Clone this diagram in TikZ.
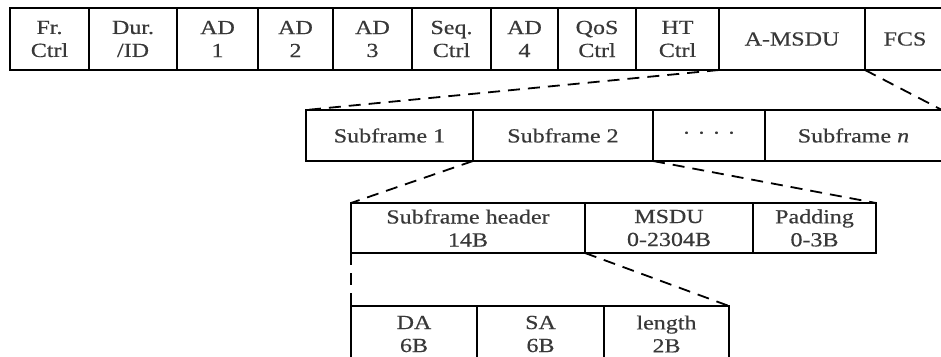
\documentclass[tikz,border=0pt]{standalone}
\usepackage{fontspec}
\setmainfont{Liberation Serif}[FakeStretch=1.2, FakeBold=0.4]
\usetikzlibrary{positioning}

\begin{document}
\begin{tikzpicture}[
  x=1pt, y=-1pt,
  node distance=0pt,
  field/.style={draw, line width=2.6pt, align=center, inner sep=0pt,
    outer sep=0pt, anchor=north west, text=black!78,
    font=\fontsize{20}{23}\selectfont},
  mac/.style={field, minimum height=62pt},
  sub/.style={field, minimum height=51pt},
  hdr/.style={field, minimum height=50pt},
  zoomline/.style={line width=1.8pt, dash pattern=on 12pt off 8pt}
]
\fill[white] (0,0) rectangle (941,356);
\useasboundingbox (0,0) rectangle (941,356);

% MAC frame
\node[mac, minimum width=79pt] (fc) at (10,8) {Fr.\\Ctrl};
\node[mac, minimum width=88pt, right=of fc] (dur) {Dur.\\/ID};
\node[mac, minimum width=81pt, right=of dur] (ad1) {AD\\1};
\node[mac, minimum width=75pt, right=of ad1] (ad2) {AD\\2};
\node[mac, minimum width=79pt, right=of ad2] (ad3) {AD\\3};
\node[mac, minimum width=79pt, right=of ad3] (seq) {Seq.\\Ctrl};
\node[mac, minimum width=67pt, right=of seq] (ad4) {AD\\4};
\node[mac, minimum width=78pt, right=of ad4] (qos) {QoS\\Ctrl};
\node[mac, minimum width=83pt, right=of qos] (ht) {HT\\Ctrl};
\node[mac, minimum width=146pt, right=of ht] (amsdu) {A-MSDU};
\node[mac, minimum width=80pt, right=of amsdu] (fcs) {FCS};

% A-MSDU subframes
\node[sub, minimum width=167pt] (sf1) at (306,110) {Subframe 1};
\node[sub, minimum width=180pt, right=of sf1] (sf2) {Subframe 2};
\node[sub, minimum width=112pt, right=of sf2] (dots) {·\hspace{7pt}·\hspace{7pt}·\hspace{7pt}·};
\node[sub, minimum width=177pt, right=of dots] (sfn) {Subframe \textit{n}};

% subframe
\node[hdr, minimum width=234pt] (head) at (351,203) {Subframe header\\14B};
\node[hdr, minimum width=168pt, right=of head] (msdu) {MSDU\\0-2304B};
\node[hdr, minimum width=123pt, right=of msdu] (pad) {Padding\\0-3B};

% subframe header
\node[field, minimum height=56pt, minimum width=126pt] (da) at (351,306) {DA\\6B};
\node[field, minimum height=56pt, minimum width=127pt, right=of da] (sa) {SA\\6B};
\node[field, minimum height=56pt, minimum width=125pt, right=of sa] (len) {length\\2B};

\draw[zoomline] (amsdu.south west) -- (sf1.north west);
\draw[zoomline] (amsdu.south east) -- (sfn.north east);
\draw[zoomline] (sf1.south east) -- (head.north west);
\draw[zoomline] (sf2.south east) -- (pad.north east);
\draw[zoomline] (head.south west) -- (da.north west);
\draw[zoomline] (head.south east) -- (len.north east);
\end{tikzpicture}
\end{document}
